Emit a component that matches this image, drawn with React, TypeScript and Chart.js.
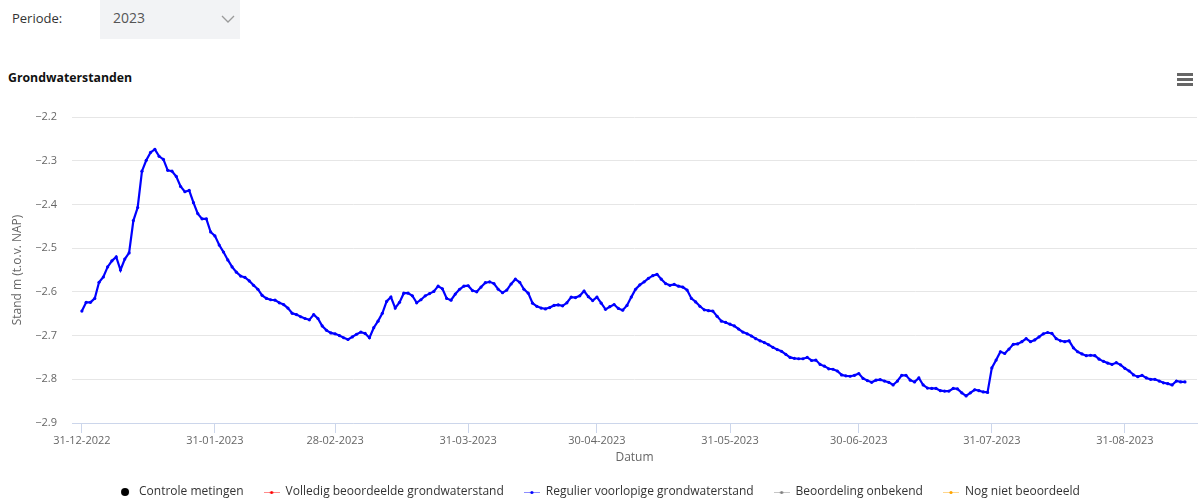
import React, { useEffect, useRef } from "react";
import { Chart, registerables } from "chart.js";

Chart.register(...registerables);

// Daily groundwater levels (m t.o.v. NAP), starting 31-12-2022
const START_DATE = "31-12-2022";
const LEVELS: number[] = [
  -2.644, -2.624, -2.624, -2.615, -2.578, -2.566, -2.543, -2.529, -2.520, -2.550,
  -2.525, -2.511, -2.437, -2.407, -2.324, -2.299, -2.281, -2.274, -2.290, -2.297,
  -2.322, -2.324, -2.336, -2.359, -2.371, -2.368, -2.396, -2.421, -2.433, -2.433,
  -2.463, -2.472, -2.493, -2.509, -2.527, -2.543, -2.555, -2.564, -2.567, -2.575,
  -2.585, -2.594, -2.608, -2.615, -2.618, -2.619, -2.625, -2.629, -2.637, -2.649,
  -2.652, -2.657, -2.661, -2.664, -2.652, -2.661, -2.678, -2.688, -2.694, -2.696,
  -2.700, -2.705, -2.709, -2.703, -2.697, -2.692, -2.695, -2.705, -2.682, -2.667,
  -2.649, -2.622, -2.612, -2.637, -2.624, -2.603, -2.603, -2.609, -2.625, -2.618,
  -2.609, -2.604, -2.599, -2.587, -2.593, -2.615, -2.619, -2.605, -2.594, -2.587,
  -2.586, -2.597, -2.600, -2.589, -2.579, -2.577, -2.581, -2.594, -2.602, -2.596,
  -2.582, -2.571, -2.578, -2.594, -2.603, -2.626, -2.633, -2.637, -2.639, -2.636,
  -2.631, -2.630, -2.632, -2.625, -2.612, -2.613, -2.609, -2.598, -2.611, -2.620,
  -2.612, -2.626, -2.640, -2.634, -2.629, -2.638, -2.642, -2.631, -2.612, -2.594,
  -2.584, -2.577, -2.569, -2.563, -2.560, -2.571, -2.581, -2.585, -2.583, -2.587,
  -2.589, -2.596, -2.615, -2.623, -2.633, -2.641, -2.643, -2.644, -2.656, -2.667,
  -2.670, -2.674, -2.678, -2.685, -2.692, -2.696, -2.701, -2.707, -2.712, -2.716,
  -2.721, -2.727, -2.732, -2.736, -2.743, -2.750, -2.752, -2.753, -2.753, -2.750,
  -2.757, -2.756, -2.766, -2.770, -2.776, -2.777, -2.781, -2.790, -2.792, -2.793,
  -2.791, -2.787, -2.798, -2.803, -2.807, -2.802, -2.801, -2.804, -2.807, -2.813,
  -2.804, -2.791, -2.791, -2.802, -2.806, -2.797, -2.813, -2.820, -2.821, -2.821,
  -2.826, -2.827, -2.827, -2.821, -2.822, -2.831, -2.838, -2.831, -2.824, -2.826,
  -2.829, -2.830, -2.774, -2.756, -2.737, -2.741, -2.731, -2.720, -2.719, -2.714,
  -2.707, -2.714, -2.710, -2.703, -2.696, -2.693, -2.695, -2.707, -2.712, -2.714,
  -2.712, -2.728, -2.737, -2.742, -2.746, -2.745, -2.746, -2.754, -2.759, -2.763,
  -2.766, -2.762, -2.767, -2.775, -2.781, -2.790, -2.794, -2.791, -2.797, -2.800,
  -2.800, -2.804, -2.808, -2.810, -2.813, -2.804, -2.806, -2.806,
];

// Tick positions (days after START_DATE) and labels
const TICK_DAYS = [0, 31, 59, 90, 120, 151, 181, 212, 243];
const TICK_LABELS = [
  "31-12-2022", "31-01-2023", "28-02-2023", "31-03-2023", "30-04-2023",
  "31-05-2023", "30-06-2023", "31-07-2023", "31-08-2023",
];

const Y_MIN = -2.9;
const Y_MAX = -2.2;
const Y_STEP = 0.1;

const SERIES_NAMES = [
  "Controle metingen",
  "Volledig beoordeelde grondwaterstand",
  "Regulier voorlopige grondwaterstand",
  "Beoordeling onbekend",
  "Nog niet beoordeeld",
];
const SERIES_COLORS = ["#000000", "#ff0000", "#0000ff", "#808080", "#ffa500"];
const ACTIVE_SERIES = 2;

const FONT = "'Open Sans', sans-serif";

function makeSymbol(color: string, dotOnly: boolean): HTMLCanvasElement {
  const c = document.createElement("canvas");
  c.width = 16;
  c.height = 10;
  const ctx = c.getContext("2d")!;
  if (dotOnly) {
    ctx.fillStyle = color;
    ctx.beginPath();
    ctx.arc(8, 5, 4, 0, Math.PI * 2);
    ctx.fill();
  } else {
    ctx.globalAlpha = 0.45;
    ctx.strokeStyle = color;
    ctx.lineWidth = 1;
    ctx.beginPath();
    ctx.moveTo(0, 5.5);
    ctx.lineTo(16, 5.5);
    ctx.stroke();
    ctx.globalAlpha = 1;
    ctx.fillStyle = color;
    ctx.beginPath();
    ctx.arc(8, 5.5, 1.6, 0, Math.PI * 2);
    ctx.fill();
  }
  return c;
}

function GroundwaterChart() {
  const ref = useRef<HTMLCanvasElement | null>(null);

  useEffect(() => {
    if (!ref.current) return;
    const symbols = SERIES_COLORS.map((c, i) => makeSymbol(c, i === 0));
    const datasets = SERIES_NAMES.map((name, i) => ({
      label: name,
      data: i === ACTIVE_SERIES ? LEVELS.map((v, d) => ({ x: d, y: v })) : [],
      borderColor: SERIES_COLORS[i],
      backgroundColor: SERIES_COLORS[i],
      borderWidth: 2.2,
      pointRadius: 1.6,
      pointBorderWidth: 0,
      pointHoverRadius: 1.6,
      tension: 0,
      showLine: true,
    }));

    const chart = new Chart(ref.current, {
      type: "line",
      data: { datasets },
      options: {
        animation: false,
        responsive: false,
        maintainAspectRatio: false,
        devicePixelRatio: 1,
        layout: { padding: { top: 27, right: 4, left: 0, bottom: 0 } },
        font: { family: FONT },
        plugins: {
          tooltip: { enabled: false },
          legend: {
            position: "bottom",
            onClick: () => {},
            labels: {
              usePointStyle: true,
              pointStyleWidth: 16,
              boxHeight: 10,
              padding: 20,
              color: "#333333",
              font: { size: 12, family: FONT },
              generateLabels: () =>
                SERIES_NAMES.map((name, i) => ({
                  text: name,
                  pointStyle: symbols[i] as any,
                  fillStyle: SERIES_COLORS[i],
                  strokeStyle: SERIES_COLORS[i],
                  lineWidth: 0,
                  hidden: false,
                  datasetIndex: i,
                  fontColor: "#333333",
                })),
            },
          },
        },
        scales: {
          x: {
            type: "linear",
            min: -2.3,
            max: 259.8,
            afterFit: (s: any) => {
              s.height = 43;
            },
            afterBuildTicks: (s: any) => {
              s.ticks = TICK_DAYS.map((v) => ({ value: v }));
            },
            ticks: {
              autoSkip: false,
              maxRotation: 0,
              padding: 1,
              color: "#666666",
              font: { size: 11, family: FONT },
              callback: (_v: any, i: number) => TICK_LABELS[i],
            },
            grid: {
              drawOnChartArea: false,
              drawTicks: true,
              tickLength: 10,
              color: "#ccd6eb",
            },
            border: { display: true, color: "#ccd6eb" },
            title: {
              display: true,
              text: "Datum",
              color: "#666666",
              font: { size: 12, family: FONT },
              padding: { top: 0, bottom: 1 },
            },
          },
          y: {
            type: "linear",
            min: Y_MIN,
            max: Y_MAX,
            afterFit: (s: any) => {
              s.width = 72;
            },
            ticks: {
              stepSize: Y_STEP,
              padding: 15,
              color: "#666666",
              font: { size: 11, family: FONT },
              callback: (v: any) => Number(v).toFixed(1).replace("-", "\u2212"),
            },
            grid: { color: "#e6e6e6", drawTicks: false },
            border: { display: false },
            title: {
              display: true,
              text: "Stand m (t.o.v. NAP)",
              color: "#666666",
              font: { size: 12, family: FONT },
              padding: { top: 10, bottom: 0 },
            },
          },
        },
      },
    });
    return () => chart.destroy();
  }, []);

  return (
    <canvas
      ref={ref}
      width={1201}
      height={418}
      style={{ position: "absolute", left: 0, top: 90, width: 1201, height: 418 }}
    />
  );
}

export default function App() {
  return (
    <div
      style={{
        position: "absolute",
        left: 0,
        top: 0,
        width: 1201,
        height: 501,
        overflow: "hidden",
        background: "#ffffff",
        fontFamily: FONT,
      }}
    >
      <div style={{ position: "absolute", left: 12, top: 9, fontSize: 13, color: "#333" }}>Periode:</div>
      <div
        style={{
          position: "absolute",
          left: 100,
          top: 0,
          width: 140,
          height: 39,
          background: "#f2f3f5",
        }}
      >
        <div style={{ position: "absolute", left: 13, top: 8, fontSize: 14, color: "#555" }}>2023</div>
        <svg style={{ position: "absolute", left: 121, top: 14 }} width={14} height={10}>
          <polyline points="1,2 7,8 13,2" fill="none" stroke="#9a9a9a" strokeWidth={1.3} />
        </svg>
      </div>
      <div
        style={{
          position: "absolute",
          left: 8,
          top: 69,
          fontSize: 12.3,
          fontWeight: 700,
          color: "#111",
        }}
      >
        Grondwaterstanden
      </div>
      <div style={{ position: "absolute", left: 1177, top: 73, width: 16 }}>
        <div style={{ height: 2.5, background: "#666", marginBottom: 2.5 }} />
        <div style={{ height: 2.5, background: "#666", marginBottom: 2.5 }} />
        <div style={{ height: 2.5, background: "#666" }} />
      </div>
      <GroundwaterChart />
    </div>
  );
}
